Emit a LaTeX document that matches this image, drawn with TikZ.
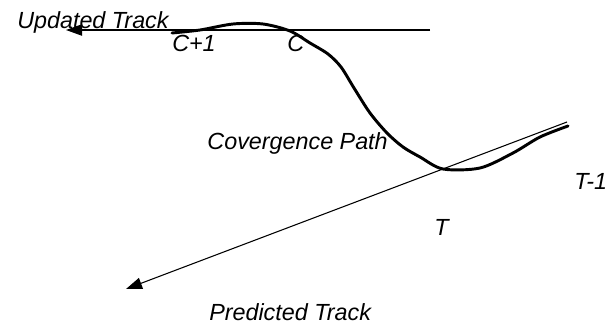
\documentclass[tikz,border=0pt]{standalone}
\usepackage{fontspec}
\setmainfont{Liberation Sans}
\usetikzlibrary{arrows.meta}
\tikzset{
  lbl/.style={inner sep=0pt, font=\fontsize{17.5}{21}\selectfont\itshape, anchor=base west},
  track/.style={line width=0.8pt, -{Triangle[length=12pt,width=8.5pt]}},
  conv/.style={line width=2.2pt, line join=round, line cap=round}
}
\begin{document}
\begin{tikzpicture}[x=0.75pt,y=-0.75pt]
\useasboundingbox (0,0) rectangle (608,324);
% labels
\node[lbl] (upd) at (17,29) {Updated Track};
\node[lbl] (c1) at (172,52) {C+1};
\node[lbl] (c) at (287,52) {C};
\node[lbl, anchor=base east] (cp) at (388,150) {Covergence Path};
\node[lbl] (t1) at (574,190) {T-1};
\node[lbl] (t) at (434,236) {T};
\node[lbl] (pred) at (209,321) {Predicted Track};
% track lines
\coordinate (us) at (430,30);
\coordinate (ue) at (66,30);
\coordinate (ps) at (567,122);
\coordinate (pe) at (126,289);
\draw[track] (us) -- (ue);
\draw[track] (ps) -- (pe);
% convergence path
\draw[conv] plot[smooth, tension=0.5] coordinates {
 (172,33) (200,30) (233,24) (263,24) (290,31) (310,43) (328,54) (341,67)
 (354,88) (370,113) (387,133) (403,147) (420,157) (443,169) (480,168)
 (513,153) (540,137) (568,126)};
\end{tikzpicture}
\end{document}
